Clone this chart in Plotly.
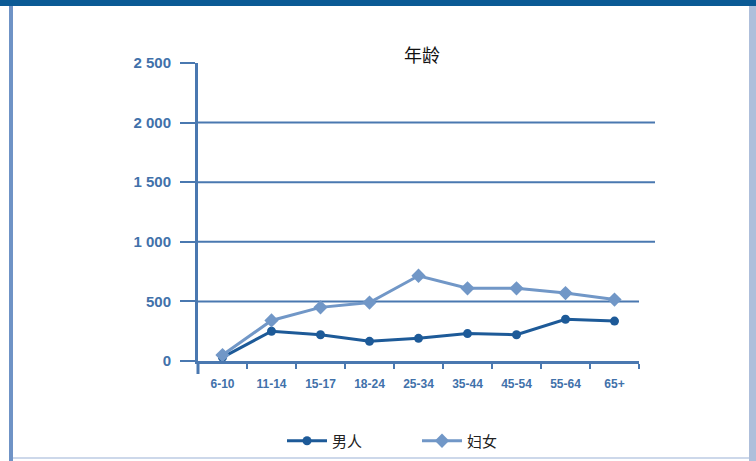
import plotly.graph_objects as go

# Age groups and counts per group
age_groups = ["6-10", "11-14", "15-17", "18-24", "25-34", "35-44", "45-54", "55-64", "65+"]
men = [30, 250, 220, 165, 190, 230, 220, 350, 335]
women = [50, 340, 450, 490, 715, 610, 610, 570, 515]

y_tick_vals = [0, 500, 1000, 1500, 2000, 2500]
y_tick_text = ["0", "500", "1 000", "1 500", "2 000", "2 500"]

W, H = 756, 461
PLOT_L, PLOT_R, PLOT_T, PLOT_B = 198, 639, 63, 361

AXIS_BLUE = "#4a78b0"
TEXT_BLUE = "#4171aa"
MEN_BLUE = "#1d5a98"
WOMEN_BLUE = "#7197c7"


def px_x(p):
    return (p - PLOT_L) / (PLOT_R - PLOT_L)


def px_y(p):
    return (PLOT_B - p) / (PLOT_B - PLOT_T)


fig = go.Figure()
fig.add_trace(go.Scatter(
    x=age_groups, y=men, name="男人", mode="lines+markers",
    line=dict(color=MEN_BLUE, width=3),
    marker=dict(symbol="circle", size=9, color=MEN_BLUE),
    cliponaxis=False,
))
fig.add_trace(go.Scatter(
    x=age_groups, y=women, name="妇女", mode="lines+markers",
    line=dict(color=WOMEN_BLUE, width=3),
    marker=dict(symbol="diamond", size=11, color=WOMEN_BLUE),
    cliponaxis=False,
))

shapes = []
# horizontal grid lines
for v in [500, 1000, 1500, 2000]:
    shapes.append(dict(
        type="line", xref="paper", yref="y",
        x0=0, x1=(1.0 if v == 500 else px_x(655)), y0=v, y1=v,
        line=dict(color=AXIS_BLUE, width=2), layer="below",
    ))
# y-axis line running a little below zero
shapes.append(dict(
    type="line", xref="paper", yref="paper",
    x0=0, x1=0, y0=0, y1=px_y(374),
    line=dict(color=AXIS_BLUE, width=3),
))
# panel frame: top bar, left and right borders, bottom rule
shapes.append(dict(
    type="rect", xref="paper", yref="paper",
    x0=px_x(0), x1=px_x(W), y0=px_y(0), y1=px_y(6),
    line=dict(width=0), fillcolor="#0b5a95",
))
shapes.append(dict(
    type="rect", xref="paper", yref="paper",
    x0=px_x(9), x1=px_x(13), y0=px_y(6), y1=px_y(H),
    line=dict(width=0), fillcolor="#6f93c6",
))
shapes.append(dict(
    type="rect", xref="paper", yref="paper",
    x0=px_x(749), x1=px_x(W), y0=px_y(6), y1=px_y(H),
    line=dict(width=0), fillcolor="#aebfdb",
))
shapes.append(dict(
    type="line", xref="paper", yref="paper",
    x0=px_x(13), x1=px_x(749), y0=px_y(458), y1=px_y(458),
    line=dict(color="#cdd8ea", width=2),
))

fig.update_layout(
    width=W, height=H,
    margin=dict(l=PLOT_L, r=W - PLOT_R, t=PLOT_T, b=H - PLOT_B, autoexpand=False),
    paper_bgcolor="white", plot_bgcolor="white",
    font=dict(family="Liberation Sans, Arial, sans-serif", color=TEXT_BLUE),
    showlegend=True,
    legend=dict(
        orientation="h", x=px_x(282), xanchor="left",
        y=px_y(441), yanchor="middle",
        font=dict(family="Noto Sans CJK SC", size=15, color="#222222"),
        itemwidth=40, entrywidth=80, entrywidthmode="pixels",
        bgcolor="rgba(0,0,0,0)",
    ),
    shapes=shapes,
    annotations=[dict(
        text="年龄", xref="paper", yref="paper",
        x=px_x(422), y=px_y(54), xanchor="center", yanchor="middle",
        showarrow=False,
        font=dict(family="Noto Sans CJK SC", size=18, color="#111111"),
    )],
)

fig.update_xaxes(
    type="category", range=[-0.5, len(age_groups) - 0.5],
    showgrid=False, zeroline=False,
    showline=True, linecolor=AXIS_BLUE, linewidth=3,
    ticks="outside", tickson="boundaries", ticklen=5,
    tickcolor=AXIS_BLUE, tickwidth=2, ticklabelstandoff=10,
    tickfont=dict(family="Liberation Sans, Arial", size=12, color=TEXT_BLUE, weight="bold"),
)
fig.update_yaxes(
    range=[0, 2500], tickvals=y_tick_vals, ticktext=y_tick_text,
    showgrid=False, zeroline=False,
    showline=True, linecolor=AXIS_BLUE, linewidth=3,
    ticks="outside", ticklen=15, tickcolor=AXIS_BLUE, tickwidth=2,
    ticklabelstandoff=6,
    tickfont=dict(family="Liberation Sans, Arial", size=15, color=TEXT_BLUE, weight="bold"),
)

fig.write_html("out.html")
